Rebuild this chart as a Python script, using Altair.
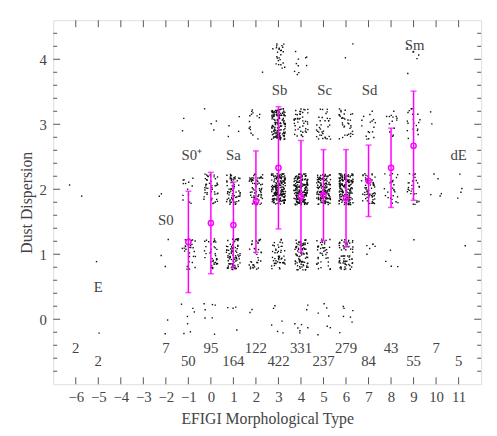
import altair as alt
import pandas as pd

# ---- data ----
types = [-6, -5, -2, -1, 0, 1, 2, 3, 4, 5, 6, 7, 8, 9, 10, 11]
# number of galaxies at each discrete dust level (0..4) per type
lev0 = [0, 1, 2, 7, 7, 4, 2, 6, 8, 7, 7, 0, 0, 0, 0, 0]
lev1 = [0, 1, 3, 28, 38, 86, 36, 50, 85, 42, 64, 6, 4, 1, 0, 1]
lev2 = [2, 0, 2, 13, 46, 70, 68, 191, 183, 153, 171, 61, 25, 28, 5, 4]
lev3 = [0, 0, 0, 2, 4, 4, 15, 150, 45, 35, 35, 17, 14, 20, 2, 0]
lev4 = [0, 0, 0, 0, 0, 0, 1, 25, 10, 0, 2, 0, 0, 6, 0, 0]
totals = [2, 2, 7, 50, 95, 164, 122, 422, 331, 237, 279, 84, 43, 55, 7, 5]

stat_types = [-1, 0, 1, 2, 3, 4, 5, 6, 7, 8, 9]
means = [1.19, 1.48, 1.45, 1.81, 2.33, 1.89, 1.91, 1.86, 2.13, 2.33, 2.67]
sds = [0.78, 0.78, 0.66, 0.78, 0.94, 0.86, 0.70, 0.75, 0.55, 0.61, 0.84]

class_names = ["E", "S0", "S0⁺", "Sa", "Sb", "Sc", "Sd", "Sm", "dE"]
class_x = [-5.0, -2.0, -0.85, 1.0, 3.05, 5.05, 7.05, 9.05, 11.0]
class_y = [0.5, 1.52, 2.52, 2.52, 3.52, 3.52, 3.52, 4.22, 2.52]

x_ticks = list(range(-6, 12))
y_major = [0, 1, 2, 3, 4]
y_minor = [round(-0.8 + 0.2 * i, 1) for i in range(27) if (i + 1) % 5 != 0]

# ---- tables ----
rows = []
k = 0
for t, a, b, c, d, e in zip(types, lev0, lev1, lev2, lev3, lev4):
    for lvl, n in enumerate([a, b, c, d, e]):
        for _ in range(n):
            k += 1
            rows.append({"type": t, "level": lvl, "k": k})
pts = pd.DataFrame(rows)
stats = pd.DataFrame({"type": stat_types, "mean": means, "sd": sds})
cls = pd.DataFrame({"name": class_names, "x": class_x, "y": class_y})
cnt = pd.DataFrame({"type": types, "n": [str(v) for v in totals]})
xt = pd.DataFrame({"v": x_ticks})
ymaj = pd.DataFrame({"v": y_major})
ymin = pd.DataFrame({"v": y_minor})

W, H = 435, 370
FONT = "Liberation Serif"
TXT = "#444444"
MAG = "#ff00ff"
FS = 15

xs = alt.Scale(domain=[-7, 12], nice=False, zero=False)
ys = alt.Scale(domain=[-1, 4.6], nice=False, zero=False)

XAX = alt.Axis(values=x_ticks, title="EFIGI Morphological Type",
               ticks=False, domain=False, grid=False, labelOverlap=False,
               labelBound=False, labelFlush=False, format="d",
               labelFont=FONT, labelFontSize=FS, labelColor=TXT,
               labelPadding=6, titleFont=FONT, titleFontSize=16,
               titleFontWeight="normal", titleColor=TXT,
               titleY=35, titleBaseline="middle")
YAX = alt.Axis(values=y_major, title="Dust Dispersion", format="d",
               ticks=False, domain=False, grid=False, labelOverlap=False,
               labelFont=FONT, labelFontSize=FS, labelColor=TXT,
               labelPadding=7, titleFont=FONT, titleFontSize=16,
               titleFontWeight="normal", titleColor=TXT,
               titleX=-27, titleY=H / 2, titleBaseline="middle",
               titleAlign="center", titleAngle=-90)


def X(f):
    return alt.X(f, scale=xs, axis=XAX)


def Y(f):
    return alt.Y(f, scale=ys, axis=YAX)


# deterministic display jitter around each discrete (type, level) cell
points = alt.Chart(pts).transform_calculate(
    hx="abs(sin(datum.k * 12.9898) * 43758.5453) % 1",
    hy="abs(sin(datum.k * 78.233) * 24634.6345) % 1",
).transform_calculate(
    xj="datum.type + (datum.hx - 0.5) * 0.62",
    yj="datum.level + (datum.hy - 0.5) * 0.48",
).mark_square(size=2.0, color="#111111", opacity=1).encode(
    x=X("xj:Q"), y=Y("yj:Q"))

stat_base = alt.Chart(stats).transform_calculate(
    lo="datum.mean - datum.sd", hi="datum.mean + datum.sd")
bars = stat_base.mark_rule(color=MAG, strokeWidth=1.5).encode(
    x=X("type:Q"), y=Y("lo:Q"), y2="hi:Q")
cap_lo = stat_base.mark_tick(color=MAG, orient="horizontal", size=6, thickness=1.5).encode(
    x=X("type:Q"), y=Y("lo:Q"))
cap_hi = stat_base.mark_tick(color=MAG, orient="horizontal", size=6, thickness=1.5).encode(
    x=X("type:Q"), y=Y("hi:Q"))
circ = stat_base.mark_point(shape="circle", size=28, filled=False, color=MAG,
                            strokeWidth=1.5, opacity=1).encode(
    x=X("type:Q"), y=Y("mean:Q"))

labels = alt.Chart(cls).mark_text(font=FONT, fontSize=FS, color=TXT,
                                  baseline="middle", align="center").encode(
    x=X("x:Q"), y=Y("y:Q"), text="name:N")

counts = alt.Chart(cnt).transform_calculate(
    yy="abs(datum.type) % 2 == 0 ? -0.45 : -0.65").mark_text(
    font=FONT, fontSize=FS, color=TXT, baseline="middle", align="center").encode(
    x=X("type:Q"), y=Y("yy:Q"), text="n:N")

TC = "#555555"
tb = alt.Chart(xt).mark_rule(color=TC, strokeWidth=1).encode(
    x=X("v:Q"), y=alt.value(H), y2=alt.value(H - 7))
tt = alt.Chart(xt).mark_rule(color=TC, strokeWidth=1).encode(
    x=X("v:Q"), y=alt.value(0), y2=alt.value(7))
tl = alt.Chart(ymaj).mark_rule(color=TC, strokeWidth=1).encode(
    y=Y("v:Q"), x=alt.value(0), x2=alt.value(7))
tr = alt.Chart(ymaj).mark_rule(color=TC, strokeWidth=1).encode(
    y=Y("v:Q"), x=alt.value(W), x2=alt.value(W - 7))
tlm = alt.Chart(ymin).mark_rule(color=TC, strokeWidth=1).encode(
    y=Y("v:Q"), x=alt.value(0), x2=alt.value(4))
trm = alt.Chart(ymin).mark_rule(color=TC, strokeWidth=1).encode(
    y=Y("v:Q"), x=alt.value(W), x2=alt.value(W - 4))

chart = alt.layer(points, bars, cap_lo, cap_hi, circ, labels, counts,
                  tb, tt, tl, tr, tlm, trm).properties(
    width=W, height=H,
    autosize=alt.AutoSizeParams(type="none"),
    padding={"left": 46, "top": 9, "right": 8, "bottom": 41},
).configure_view(stroke="#555555", strokeWidth=1).configure_axis(
    labelOverlap=False, labelBound=False, labelFlush=False
).configure(background="white")

chart.save("out.html", embed_options={"renderer": "svg", "actions": False})
